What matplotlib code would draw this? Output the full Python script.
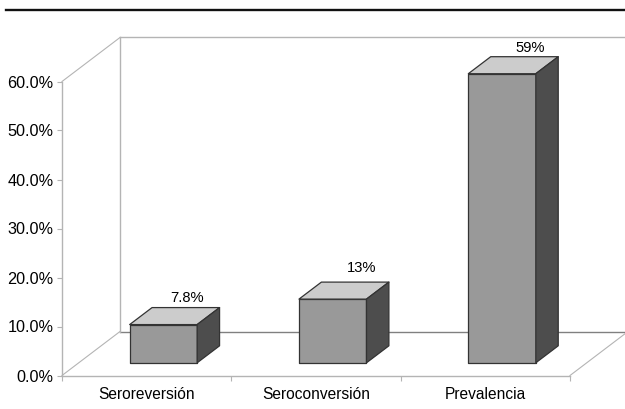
import matplotlib
matplotlib.use("Agg")
import matplotlib.pyplot as plt
from matplotlib.lines import Line2D
from matplotlib.patches import Polygon

categories = ["Seroreversión", "Seroconversión", "Prevalencia"]
values = [7.8, 13, 59]
value_labels = ["7.8%", "13%", "59%"]
y_ticks = [0, 10, 20, 30, 40, 50, 60]

plt.rcParams["font.family"] = ["Liberation Sans", "DejaVu Sans"]

W, H = 625, 409
fig = plt.figure(figsize=(W / 100, H / 100), dpi=100, facecolor="white")
ax = fig.add_axes([62 / W, (H - 375.5) / H, 508 / W, 294 / H])
ax.set_xlim(0, 3)
ax.set_ylim(0, 60)
ax.patch.set_visible(False)

# Oblique projection: units per full depth of the 3D box
px_x, px_y = 3 / 508, 60 / 294
DX, DY = 58 * px_x, 44 * px_y
GREY = "#b4b4b4"
FLOOR = "#808080"


def line(xs, ys, color=GREY, lw=1.0):
    ax.add_line(Line2D(xs, ys, color=color, lw=lw, clip_on=False, zorder=1))


line([DX, 3 + DX], [DY, DY], color=FLOOR)           # floor back edge
line([DX, DX], [DY, 60 + DY])                       # back wall left edge
line([DX, 3 + DX], [60 + DY, 60 + DY])              # back wall top
line([0, DX], [60, 60 + DY], lw=0.8)                # left wall top
line([0, DX], [0, DY], lw=0.8)                      # left floor edge
line([3, 3 + DX], [0, DY], lw=0.8)                  # right floor edge

# Bars
bar_w = 67.5 * px_x
front = 12.7 / 44               # front face position within depth
depth = 17 / 44                 # bar depth as a share of full depth
nudge_pts = [(0.9, -1.3), (4.5, 1.3), (4.2, -2)]
edge = "#333333"
for i, (v, lab, nudge) in enumerate(zip(values, value_labels, nudge_pts)):
    x0 = i + 0.5 + front * DX - bar_w / 2
    x1 = x0 + bar_w
    y0 = front * DY
    y1 = y0 + v
    dx, dy = depth * DX, depth * DY
    kw = dict(edgecolor=edge, linewidth=0.9, clip_on=False, zorder=3, joinstyle="round")
    ax.add_patch(Polygon([(x0, y0), (x1, y0), (x1, y1), (x0, y1)], facecolor="#999999", **kw))
    ax.add_patch(Polygon([(x0, y1), (x1, y1), (x1 + dx, y1 + dy), (x0 + dx, y1 + dy)], facecolor="#cccccc", **kw))
    ax.add_patch(Polygon([(x1, y0), (x1 + dx, y0 + dy), (x1 + dx, y1 + dy), (x1, y1)], facecolor="#4d4d4d", **kw))
    ax.annotate(lab, xy=((x0 + x1) / 2 + dx, y1 + dy),
                xytext=(nudge[0], 8.5 + nudge[1]), textcoords="offset points",
                ha="center", va="center", fontsize=10.6, color="black",
                annotation_clip=False, zorder=4)

# Axes
for s in ("top", "right"):
    ax.spines[s].set_visible(False)
for s in ("left", "bottom"):
    ax.spines[s].set_color(GREY)
    ax.spines[s].set_linewidth(1.0)
ax.set_yticks(y_ticks)
ax.set_yticklabels([f"{t:.1f}%" for t in y_ticks], fontsize=11.7, color="black")
ax.tick_params(axis="y", length=3.5, width=0.8, color=GREY, pad=2.5)
ax.set_xticks([0, 1, 2, 3])
ax.set_xticklabels([])
ax.tick_params(axis="x", length=3.5, width=0.8, color=GREY)
ax.set_xticks([0.5, 1.5, 2.5], labels=categories, minor=True, fontsize=11.2)
ax.tick_params(axis="x", which="minor", length=0, pad=8.3)

# Rule across the top of the page
fig.add_artist(Line2D([6 / W, 1], [(H - 10) / H] * 2, color="#111111", lw=1.7))

fig.savefig("out.png", dpi=100, facecolor="white")
